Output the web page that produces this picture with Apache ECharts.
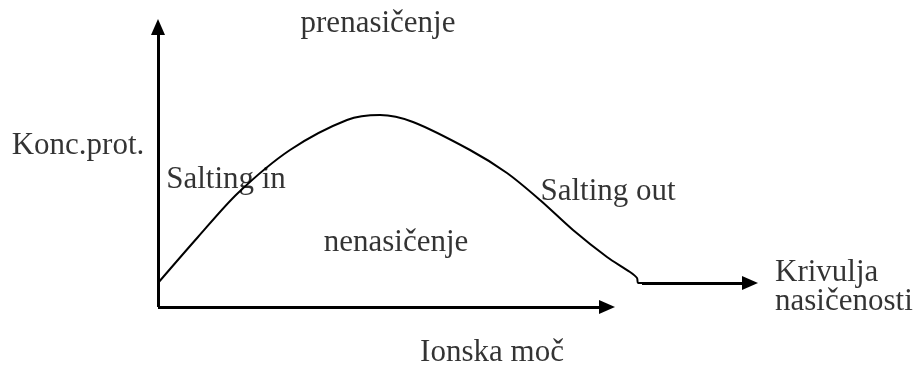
<!DOCTYPE html>
<html>
<head>
<meta charset="utf-8">
<script src="https://cdn.jsdelivr.net/npm/echarts@6/dist/echarts.min.js"></script>
<style>
  html, body { margin: 0; padding: 0; background: #fff; }
  #chart { width: 923px; height: 372px; }
</style>
</head>
<body>
<div id="chart"></div>
<script>
// solubility curve (ionic strength vs protein conc.), arbitrary units
const curveX = [0, 40, 80, 132, 189, 222, 255, 312, 349, 382, 415, 449, 472, 479, 480, 484];
const curveY = [24, 70, 114, 157, 187, 192, 185, 157, 134, 107, 77, 50, 35, 29, 24, 24];
const flatLine = [[484, 24], [592, 24]];
const xAxisLine = [[0, 0], [449, 0]];
const yAxisLine = [[0, 0], [0, 280]];

const labels = [
  { name: "prenasičenje", x: 220, y: 283, align: "center" },
  { name: "Konc.prot.", x: -80, y: 161, align: "center" },
  { name: "Salting in", x: 68, y: 127, align: "center" },
  { name: "nenasičenje", x: 238, y: 64, align: "center" },
  { name: "Salting out", x: 450, y: 115, align: "center" },
  { name: "Krivulja", x: 617, y: 34, align: "left" },
  { name: "nasičenosti", x: 617, y: 5, align: "left" },
  { name: "Ionska moč", x: 334, y: -46, align: "center" }
];

const chart = echarts.init(document.getElementById("chart"));
const font = "'Liberation Serif', 'Times New Roman', serif";

function arrow(a, b) {
  return [{ coord: a }, { coord: b }];
}

let option = {
  backgroundColor: "#fff",
  animation: false,
  grid: { left: 0, right: 0, top: 0, bottom: 0 },
  xAxis: { type: "value", min: -158, max: 765, show: false },
  yAxis: { type: "value", min: -65, max: 307, show: false },
  series: [
    {
      type: "line",
      data: curveX.map((x, i) => [x, curveY[i]]),
      smooth: 0.3,
      showSymbol: false,
      lineStyle: { color: "#000", width: 2 },
      markLine: {
        silent: true,
        symbol: ["none", "triangle"],
        symbolSize: [14, 16],
        label: { show: false },
        lineStyle: { color: "#000", width: 3, type: "solid" },
        data: [arrow(xAxisLine[0], xAxisLine[1]), arrow(yAxisLine[0], yAxisLine[1]), arrow(flatLine[0], flatLine[1])]
      }
    },
    {
      type: "scatter",
      symbolSize: 0,
      data: labels.map(d => ({
        value: [d.x, d.y],
        label: {
          show: true,
          formatter: d.name,
          position: "inside",
          align: d.align,
          verticalAlign: "middle",
          color: "#000",
          fontSize: 31,
          fontFamily: font
        }
      }))
    }
  ]
};
chart.setOption(option);
</script>
</body>
</html>
